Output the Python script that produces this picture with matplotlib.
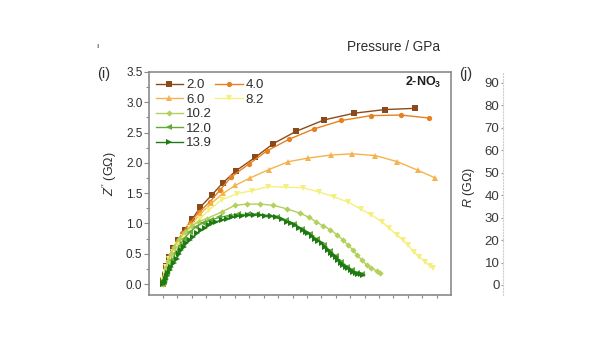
import matplotlib
matplotlib.use("Agg")
import matplotlib.pyplot as plt
from matplotlib.ticker import MultipleLocator, FormatStrFormatter

plt.rcParams['font.family'] = ['Liberation Sans', 'DejaVu Sans']
plt.rcParams['mathtext.fontset'] = 'custom'
plt.rcParams['mathtext.rm'] = 'Liberation Sans'
plt.rcParams['mathtext.it'] = 'Liberation Sans:italic'
plt.rcParams['mathtext.bf'] = 'Liberation Sans:bold'

# pressures (GPa) and Nyquist data (Z', Z'') in GOhm
labels = ["2.0", "4.0", "6.0", "8.2", "10.2", "12.0", "13.9"]

x_20 = [0.0, 0.01, 0.03, 0.06, 0.11, 0.18, 0.27, 0.38, 0.51, 0.65, 0.85, 1.04, 1.27, 1.60, 1.92, 2.31, 2.80, 3.32, 3.85, 4.37]
y_20 = [0.0, 0.06, 0.17, 0.30, 0.45, 0.60, 0.73, 0.90, 1.07, 1.27, 1.47, 1.67, 1.87, 2.09, 2.32, 2.52, 2.71, 2.82, 2.88, 2.90]

x_40 = [0.0, 0.01, 0.03, 0.06, 0.11, 0.17, 0.25, 0.34, 0.47, 0.63, 0.82, 0.99, 1.19, 1.49, 1.81, 2.19, 2.62, 3.10, 3.61, 4.13, 4.62]
y_40 = [0.0, 0.06, 0.17, 0.30, 0.44, 0.57, 0.70, 0.84, 1.01, 1.19, 1.36, 1.55, 1.77, 1.98, 2.20, 2.39, 2.56, 2.70, 2.78, 2.79, 2.74]

x_60 = [0.0, 0.01, 0.03, 0.06, 0.11, 0.17, 0.25, 0.35, 0.48, 0.65, 0.84, 1.05, 1.26, 1.51, 1.84, 2.18, 2.52, 2.92, 3.29, 3.69, 4.07, 4.42, 4.73]
y_60 = [0.0, 0.06, 0.17, 0.29, 0.42, 0.55, 0.67, 0.81, 0.97, 1.16, 1.33, 1.50, 1.63, 1.75, 1.89, 2.02, 2.08, 2.13, 2.15, 2.12, 2.02, 1.88, 1.75]

x_82 = [0.0, 0.01, 0.03, 0.06, 0.11, 0.17, 0.25, 0.35, 0.48, 0.64, 0.80, 1.02, 1.28, 1.54, 1.83, 2.14, 2.43, 2.71, 2.97, 3.22,
        3.43, 3.62, 3.80, 3.93, 4.06, 4.16, 4.26, 4.35, 4.45, 4.55, 4.64, 4.69]
y_82 = [0.0, 0.06, 0.16, 0.28, 0.41, 0.53, 0.65, 0.78, 0.93, 1.08, 1.22, 1.39, 1.49, 1.54, 1.61, 1.60, 1.59, 1.52, 1.44, 1.35,
        1.24, 1.14, 1.03, 0.92, 0.81, 0.73, 0.64, 0.53, 0.45, 0.37, 0.30, 0.26]

x_102 = [0.0, 0.01, 0.03, 0.05, 0.09, 0.14, 0.20, 0.28, 0.38, 0.50, 0.62, 0.76, 1.02, 1.25, 1.46, 1.68, 1.92, 2.16, 2.38, 2.54,
         2.66, 2.78, 2.90, 3.03, 3.12, 3.22, 3.30, 3.37, 3.45, 3.54, 3.62, 3.71, 3.77]
y_102 = [0.0, 0.06, 0.15, 0.26, 0.38, 0.50, 0.62, 0.74, 0.86, 0.96, 1.03, 1.08, 1.19, 1.30, 1.32, 1.32, 1.30, 1.24, 1.17, 1.10,
         1.03, 0.96, 0.90, 0.81, 0.73, 0.64, 0.56, 0.48, 0.40, 0.31, 0.26, 0.22, 0.19]

x_120 = [0.00, 0.02, 0.04, 0.07, 0.11, 0.16, 0.22, 0.29, 0.37, 0.47, 0.58, 0.70, 0.84, 0.98, 1.14, 1.30, 1.47, 1.64, 1.81, 1.98,
         2.14, 2.28, 2.42, 2.55, 2.67, 2.79, 2.90, 3.00, 3.10, 3.20, 3.29, 3.37, 3.45]
y_120 = [0.00, 0.04, 0.10, 0.18, 0.28, 0.39, 0.51, 0.63, 0.75, 0.86, 0.95, 1.01, 1.06, 1.10, 1.13, 1.15, 1.15, 1.15, 1.13, 1.10,
         1.05, 0.99, 0.91, 0.83, 0.74, 0.65, 0.55, 0.46, 0.37, 0.29, 0.23, 0.19, 0.16]

x_139 = [0.00, 0.01, 0.02, 0.03, 0.05, 0.07, 0.09, 0.12, 0.15, 0.19, 0.24, 0.28, 0.32, 0.36, 0.41, 0.47, 0.53, 0.60, 0.67, 0.73,
         0.80, 0.86, 0.93, 1.02, 1.11, 1.20, 1.28, 1.38, 1.48, 1.58, 1.68, 1.78, 1.88, 1.97, 2.06, 2.15, 2.22, 2.29, 2.36, 2.43,
         2.48, 2.52, 2.58, 2.64, 2.70, 2.76, 2.82, 2.87, 2.92, 2.96, 3.00, 3.04, 3.09, 3.13, 3.18, 3.22, 3.26, 3.30, 3.35, 3.39,
         3.44, 3.48]
y_139 = [0.00, 0.01, 0.02, 0.04, 0.09, 0.14, 0.18, 0.24, 0.29, 0.35, 0.42, 0.49, 0.56, 0.61, 0.67, 0.73, 0.78, 0.84, 0.89, 0.93,
         0.97, 1.00, 1.03, 1.06, 1.08, 1.10, 1.12, 1.13, 1.14, 1.14, 1.14, 1.13, 1.12, 1.10, 1.07, 1.03, 1.00, 0.97, 0.93, 0.89,
         0.86, 0.84, 0.80, 0.75, 0.71, 0.67, 0.61, 0.56, 0.52, 0.48, 0.44, 0.40, 0.35, 0.31, 0.28, 0.26, 0.23, 0.20, 0.18, 0.17,
         0.16, 0.15]

xs = [x_20, x_40, x_60, x_82, x_102, x_120, x_139]
ys = [y_20, y_40, y_60, y_82, y_102, y_120, y_139]
colors = ["#8a4a1c", "#e8801e", "#f6b24c", "#f5f07c", "#b3cf5c", "#62a93a", "#207a14"]
markers = ["s", "o", "^", "v", "D", "<", ">"]

r_ticks = [0, 10, 20, 30, 40, 50, 60, 70, 80, 90]

txt = "#2e2e2e"
spine = "#8a8a8a"

fig = plt.figure(figsize=(6, 3.38), dpi=100)

# panel (i)
ax = fig.add_axes([149 / 600, 1 - 295 / 338, 302 / 600, 223 / 338])
lines = []
for x, y, c, m, lab in zip(xs, ys, colors, markers, labels):
    ms = 3.2 if m == "D" else 3.8
    ln, = ax.plot(x, y, color=c, marker=m, markersize=ms, markeredgewidth=0, lw=1.0, label=lab)
    lines.append(ln)

ax.set_xlim(-0.24, 5.0)
ax.set_ylim(-0.18, 3.5)
ax.yaxis.set_major_locator(MultipleLocator(0.5))
ax.yaxis.set_minor_locator(MultipleLocator(0.25))
ax.set_xticks([i * 0.25 for i in range(20)])
ax.set_xticklabels([])
ax.tick_params(axis="y", which="major", direction="out", length=3.5, width=0.8, pad=1.2,
               colors=spine, labelcolor=txt, labelsize=8.5)
ax.tick_params(axis="y", which="minor", direction="out", length=2, width=0.8, colors=spine)
ax.tick_params(axis="x", which="major", direction="out", length=2.2, width=0.8, colors=spine)
ax.yaxis.set_major_formatter(FormatStrFormatter("%.1f"))
for s in ax.spines.values():
    s.set_color(spine)
    s.set_linewidth(1.2)

# legend laid out as 2 + 2 + 1 + 1 + 1
blank = plt.Line2D([], [], lw=0, marker=None)
handles = [lines[0], lines[2], lines[4], lines[5], lines[6], lines[1], lines[3], blank, blank, blank]
hl = ["2.0", "6.0", "10.2", "12.0", "13.9", "4.0", "8.2", "", "", ""]
ax.legend(handles, hl, ncol=2, loc="upper left", bbox_to_anchor=(0.022, 0.968), frameon=False,
          fontsize=9.5, handlelength=2.1, handletextpad=0.2, columnspacing=0.25, labelspacing=0.17,
          borderpad=0.0, borderaxespad=0.0, labelcolor=txt)

ax.text(0.97, 0.953, "2-NO$_\\mathbf{3}$", transform=ax.transAxes, ha="right", va="center",
        fontsize=9, fontweight="bold", color="#1e1e1e")

fig.text(110 / 600, 1 - 173.5 / 338, "$Z''$ (G\u03a9)", rotation=90, ha="center", va="center",
         fontsize=9, color=txt)
fig.text(104 / 600, 1 - 74 / 338, "(i)", ha="center", va="center", fontsize=10.5, color=txt)
fig.text(393.5 / 600, 1 - 47 / 338, "Pressure / GPa", ha="center", va="center", fontsize=9.8, color=txt)
fig.text(97 / 600, 1 - 46.5 / 338, "\u0131", ha="center", va="center", fontsize=6, color=txt)

# panel (j), mostly cut off
ax2 = fig.add_axes([503 / 600, 1 - 295 / 338, 0.3, 223 / 338])
ax2.set_ylim(-4.45, 94.76)
ax2.set_xlim(0, 1)
ax2.set_yticks(r_ticks)
ax2.set_xticks([])
for k in ["top", "right", "bottom"]:
    ax2.spines[k].set_visible(False)
ax2.spines["left"].set_color("#d0d0d0")
ax2.spines["left"].set_linestyle(":")
ax2.spines["left"].set_linewidth(0.8)
ax2.tick_params(axis="y", direction="out", length=1.5, width=0.8, pad=1.0, colors="#999999",
                labelcolor="#3a3a3a", labelsize=9.5)
fig.text(469 / 600, 1 - 187 / 338, "$R$ (G\u03a9)", rotation=90, ha="center", va="center",
         fontsize=9, color=txt)
fig.text(466 / 600, 1 - 74 / 338, "(j)", ha="center", va="center", fontsize=10.5, color=txt)

fig.savefig("out.png", dpi=100)
